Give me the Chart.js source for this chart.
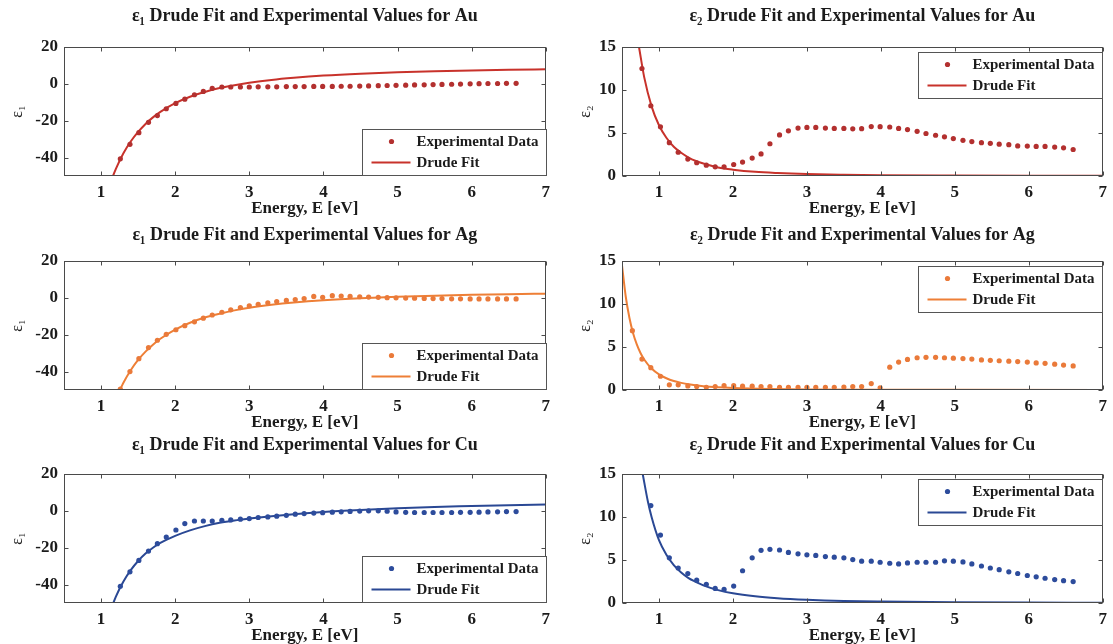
<!DOCTYPE html>
<html>
<head>
<meta charset="utf-8">
<script src="https://cdn.jsdelivr.net/npm/chart.js@4.4.1/dist/chart.umd.min.js"></script>
<style>
  html, body { margin: 0; padding: 0; background: #ffffff; }
  #sheet { position: relative; width: 1113px; height: 644px; overflow: hidden; background: #ffffff; }
  #sheet canvas { position: absolute; }
</style>
</head>
<body>
<div id="sheet"></div>
<script>
// Photon energies of the measured optical constants (eV)
const photonEnergy = [0.64, 0.77, 0.89, 1.02, 1.14, 1.26, 1.39, 1.51, 1.64, 1.76, 1.88, 2.01, 2.13, 2.26, 2.38, 2.50,
  2.63, 2.75, 2.88, 3.00, 3.12, 3.25, 3.37, 3.50, 3.62, 3.74, 3.87, 3.99, 4.12, 4.24, 4.36, 4.49, 4.61, 4.74,
  4.86, 4.98, 5.11, 5.23, 5.36, 5.48, 5.60, 5.73, 5.85, 5.98, 6.10, 6.22, 6.35, 6.47, 6.60];

// Measured permittivity (null = outside the plotted range)
const auEps1 = [null, null, null, null, null,
  -40.7, -32.8, -26.5, -20.9, -17.2, -13.5, -10.6, -8.3, -5.9, -4.1, -2.4, -1.7, -1.7, -1.7, -1.7, -1.6,
  -1.6, -1.6, -1.5, -1.5, -1.5, -1.4, -1.4, -1.4, -1.3, -1.3, -1.2, -1.1, -1.0, -0.9, -0.8, -0.7, -0.6,
  -0.5, -0.4, -0.3, -0.2, -0.1, 0.0, 0.1, 0.2, 0.2, 0.3, 0.3];
const auEps2 = [null,
  12.5, 8.17, 5.72, 3.87, 2.76, 1.97, 1.54, 1.26, 1.07, 1.07, 1.34, 1.62, 2.09, 2.57, 3.75, 4.78, 5.25,
  5.57, 5.65, 5.65, 5.57, 5.53, 5.53, 5.49, 5.5, 5.75, 5.73, 5.7, 5.53, 5.4, 5.2, 4.94, 4.74, 4.55, 4.35,
  4.15, 4.0, 3.87, 3.8, 3.7, 3.64, 3.5, 3.48, 3.44, 3.44, 3.36, 3.28, 3.08];
const agEps1 = [null, null, null, null, null,
  -49.5, -40, -33, -27, -23, -19.8, -17.3, -15.1, -13, -11, -9.3, -7.8, -6.5, -5.3, -4.3, -3.5, -2.7,
  -2.0, -1.4, -0.9, -0.4, 0.8, 0.3, 1.2, 1.0, 0.8, 0.6, 0.4, 0.3, 0.1, 0.0, -0.1, -0.2, -0.3, -0.4, -0.4,
  -0.5, -0.5, -0.6, -0.6, -0.6, -0.6, -0.6, -0.6];
const agEps2 = [6.9, 3.6, 2.6, 1.6, 0.6, 0.6, 0.47, 0.4, 0.3, 0.4, 0.5, 0.5, 0.45, 0.45, 0.4, 0.4, 0.3,
  0.3, 0.3, 0.3, 0.3, 0.3, 0.3, 0.35, 0.4, 0.4, 0.75, 0.25, 2.65, 3.25, 3.55, 3.75, 3.8, 3.8, 3.75, 3.7,
  3.65, 3.6, 3.5, 3.45, 3.4, 3.35, 3.3, 3.25, 3.15, 3.1, 3.0, 2.9, 2.8];
const cuEps1 = [null, null, null, null, null,
  -40.9, -33.1, -26.9, -21.8, -17.8, -14.2, -10.4, -6.9, -5.5, -5.5, -5.5, -5.1, -4.9, -4.5, -4.2, -3.6,
  -3.3, -2.9, -2.4, -1.8, -1.5, -1.2, -1.0, -0.7, -0.5, -0.3, -0.1, 0.0, 0.0, -0.2, -0.6, -0.8, -0.9,
  -0.9, -0.9, -0.9, -0.9, -0.8, -0.8, -0.7, -0.6, -0.5, -0.4, -0.4];
const cuEps2 = [null, null,
  11.33, 7.9, 5.25, 4.07, 3.43, 2.65, 2.17, 1.7, 1.58, 1.97, 3.75, 5.25, 6.12, 6.24, 6.16, 5.88, 5.72,
  5.6, 5.53, 5.4, 5.33, 5.25, 5.05, 4.86, 4.86, 4.74, 4.62, 4.54, 4.66, 4.74, 4.74, 4.74, 4.9, 4.86,
  4.78, 4.54, 4.3, 4.07, 3.87, 3.63, 3.43, 3.2, 3.04, 2.88, 2.72, 2.6, 2.49];

// Drude model curves (energy / value pairs)
const auEps1FitE = [1.16, 1.2, 1.3, 1.4, 1.5, 1.6, 1.7, 1.8, 2.0, 2.2, 2.4, 2.6, 2.8, 3.0, 3.3, 3.6, 4.0, 4.5, 5.0, 5.5, 6.0, 6.5, 7.0];
const auEps1Fit  = [-50, -46.1, -37.8, -31.3, -26.1, -21.75, -18.2, -15.2, -10.5, -7.0, -4.4, -2.3, -0.7, 0.6, 2.15, 3.3, 4.5, 5.55, 6.3, 6.86, 7.28, 7.6, 7.87];
const auEps2FitE = [0.73, 0.8, 0.9, 1.0, 1.1, 1.2, 1.3, 1.4, 1.5, 1.6, 1.8, 2.0, 2.3, 2.6, 3.0, 3.5, 4.0, 5.0, 6.0, 7.0];
const auEps2Fit  = [15, 11.5, 8.1, 5.9, 4.45, 3.4, 2.7, 2.15, 1.75, 1.45, 1.0, 0.74, 0.48, 0.34, 0.22, 0.14, 0.09, 0.05, 0.03, 0.02];
const agEps1FitE = [1.255, 1.3, 1.4, 1.5, 1.6, 1.7, 1.8, 2.0, 2.2, 2.4, 2.6, 2.8, 3.0, 3.3, 3.6, 4.0, 4.5, 5.0, 5.5, 6.0, 6.5, 7.0];
const agEps1Fit  = [-50, -46.2, -39.3, -33.7, -29.2, -25.4, -22.2, -17.2, -13.5, -10.7, -8.6, -6.8, -5.4, -3.8, -2.55, -1.3, -0.19, 0.6, 1.2, 1.64, 2.0, 2.27];
const agEps2FitE = [0.5, 0.55, 0.6, 0.65, 0.7, 0.75, 0.8, 0.9, 1.0, 1.1, 1.2, 1.3, 1.4, 1.6, 1.8, 2.0, 2.5, 3.0, 4.0, 5.0, 7.0];
const agEps2Fit  = [14.5, 10.9, 8.4, 6.6, 5.3, 4.3, 3.55, 2.5, 1.82, 1.37, 1.05, 0.83, 0.66, 0.44, 0.31, 0.23, 0.12, 0.07, 0.03, 0.015, 0.005];
const cuEps1FitE = [1.165, 1.2, 1.3, 1.4, 1.5, 1.6, 1.7, 1.8, 2.0, 2.2, 2.4, 2.6, 2.8, 3.0, 3.3, 3.6, 4.0, 4.5, 5.0, 5.5, 6.0, 6.5, 7.0];
const cuEps1Fit  = [-50, -46.5, -38.5, -32.2, -27.2, -23.2, -20.0, -17.4, -13.6, -10.6, -8.3, -6.5, -5.2, -4.2, -2.9, -1.8, -0.6, 0.5, 1.4, 2.1, 2.6, 3.1, 3.4];
const cuEps2FitE = [0.78, 0.85, 0.9, 1.0, 1.1, 1.2, 1.3, 1.4, 1.5, 1.6, 1.8, 2.0, 2.3, 2.6, 3.0, 3.5, 4.0, 5.0, 6.0, 7.0];
const cuEps2Fit  = [15, 11.8, 10.0, 7.3, 5.6, 4.4, 3.55, 2.9, 2.45, 2.05, 1.5, 1.13, 0.78, 0.56, 0.38, 0.24, 0.17, 0.09, 0.05, 0.03];

// Axis ticks
const energyTicks = [1, 2, 3, 4, 5, 6, 7];
const eps1Ticks = [-40, -20, 0, 20];
const eps2Ticks = [0, 5, 10, 15];

const seriesLabels = ['Experimental Data', 'Drude Fit'];
const metalColors = {
  Au: { dot: '#b3302f', line: '#c8322b' },
  Ag: { dot: '#ea7a3a', line: '#ee7f36' },
  Cu: { dot: '#2d4c9c', line: '#2a4894' }
};

const SERIF = '"Liberation Serif", "DejaVu Serif", serif';
const INK = '#1b1b1b';

// Box, inward tick marks and in-axes legend
const axesBox = {
  id: 'axesBox',
  afterDatasetsDraw(chart, args, opts) {
    const { ctx, chartArea: a, scales: { x, y } } = chart;
    const L = Math.round(a.left) + 0.5, R = Math.round(a.right) - 0.5;
    const T = Math.round(a.top) + 0.5, B = Math.round(a.bottom) - 0.5;
    ctx.save();
    ctx.strokeStyle = '#4a4a4a';
    ctx.lineWidth = 1;
    ctx.beginPath();
    x.ticks.forEach(t => {
      const px = Math.round(x.getPixelForValue(t.value)) + 0.5;
      ctx.moveTo(px, B); ctx.lineTo(px, B - 4);
      ctx.moveTo(px, T); ctx.lineTo(px, T + 4);
    });
    y.ticks.forEach(t => {
      const py = Math.round(y.getPixelForValue(t.value)) + 0.5;
      ctx.moveTo(L, py); ctx.lineTo(L + 4, py);
      ctx.moveTo(R, py); ctx.lineTo(R - 4, py);
    });
    ctx.stroke();
    ctx.strokeRect(L, T, R - L, B - T);

    // legend
    const w = 184, h = 46;
    const bx = Math.round(R - w - (opts.corner === 'tr' ? 1 : 0)) + 0.5;
    const by = opts.corner === 'tr' ? T + 5 : B - h;
    ctx.fillStyle = '#ffffff';
    ctx.fillRect(bx, by, w, h);
    ctx.strokeStyle = '#555555';
    ctx.strokeRect(bx, by, w, h);
    chart.data.datasets.forEach((ds, i) => {
      const cy = by + 12 + i * 21;
      if (ds.showLine) {
        ctx.strokeStyle = ds.borderColor;
        ctx.lineWidth = 2;
        ctx.beginPath();
        ctx.moveTo(bx + 9, cy); ctx.lineTo(bx + 48, cy);
        ctx.stroke();
      } else {
        ctx.fillStyle = ds.backgroundColor;
        ctx.beginPath();
        ctx.arc(bx + 29, cy, 2.6, 0, Math.PI * 2);
        ctx.fill();
      }
      ctx.fillStyle = INK;
      ctx.font = 'bold 15px ' + SERIF;
      ctx.textAlign = 'left';
      ctx.textBaseline = 'middle';
      ctx.fillText(ds.label, bx + 54, cy + 1);
    });
    ctx.restore();
  }
};

const rowTops = [0, 214, 427];
const titlePads = [[6, 19.4], [11, 14.4], [8, 17.4]];

function makePanel(metal, row, part, measured, fitE, fitV) {
  const col = part === 1 ? 0 : 1;
  const canvas = document.createElement('canvas');
  const cw = col === 0 ? 556 : 557;
  canvas.width = cw; canvas.height = 221;
  canvas.style.left = (col * 556) + 'px';
  canvas.style.top = rowTops[row] + 'px';
  canvas.style.width = cw + 'px'; canvas.style.height = '221px';
  document.getElementById('sheet').appendChild(canvas);

  const sub = part === 1 ? '\u2081' : '\u2082';
  const colors = metalColors[metal];
  const expPoints = photonEnergy.map((e, i) => ({ x: e, y: measured[i] })).filter(p => p.y !== null);
  const fitPoints = fitE.map((e, i) => ({ x: e, y: fitV[i] }));

  new Chart(canvas, {
    type: 'scatter',
    data: {
      datasets: [
        { label: seriesLabels[0], data: expPoints, showLine: false, pointRadius: 2.6, pointHoverRadius: 2.6,
          backgroundColor: colors.dot, borderColor: colors.dot, pointBorderWidth: 0 },
        { label: seriesLabels[1], data: fitPoints, showLine: true, pointRadius: 0, borderWidth: 2,
          borderColor: colors.line, backgroundColor: colors.line, cubicInterpolationMode: 'monotone', fill: false }
      ]
    },
    options: {
      responsive: false,
      animation: false,
      devicePixelRatio: 1,
      events: [],
      layout: { padding: { left: 0, right: col === 0 ? 9 : 5, top: 0, bottom: 0 } },
      plugins: {
        legend: { display: false },
        tooltip: { enabled: false },
        title: {
          display: true,
          fullSize: false,
          text: '\u03b5' + sub + ' Drude Fit and Experimental Values for ' + metal,
          color: INK,
          font: { family: SERIF, size: 18, weight: 'bold', lineHeight: 1.2 },
          padding: { top: titlePads[row][0], bottom: titlePads[row][1] }
        },
        axesBox: { corner: part === 1 ? 'br' : 'tr' }
      },
      scales: {
        x: {
          type: 'linear', min: 0.5, max: 7,
          afterBuildTicks: s => { s.ticks = energyTicks.map(v => ({ value: v })); },
          afterFit: s => { s.height = 45; },
          grid: { display: false, drawTicks: false },
          border: { display: false },
          ticks: { padding: 6, autoSkip: false, maxRotation: 0, color: INK,
                   font: { family: SERIF, size: 17, weight: 'bold', lineHeight: 1.2 } },
          title: { display: true, text: 'Energy, E [eV]', color: INK,
                   font: { family: SERIF, size: 17, weight: 'bold', lineHeight: 1.2 },
                   padding: { top: 0, bottom: 1.8 } }
        },
        y: {
          type: 'linear',
          min: part === 1 ? -50 : 0,
          max: part === 1 ? 20 : 15,
          afterBuildTicks: s => { s.ticks = (part === 1 ? eps1Ticks : eps2Ticks).map(v => ({ value: v })); },
          afterFit: s => { s.width = col === 0 ? 64 : 66; },
          grid: { display: false, drawTicks: false },
          border: { display: false },
          ticks: { padding: 6, autoSkip: false, color: INK,
                   font: { family: SERIF, size: 17, weight: 'bold', lineHeight: 1.2 } },
          title: { display: true, text: '\u03b5' + sub, color: INK,
                   font: { family: SERIF, size: 16, lineHeight: 1.2 },
                   padding: { top: col === 0 ? 8 : 20, bottom: 0 } }
        }
      }
    },
    plugins: [axesBox]
  });
}

makePanel('Au', 0, 1, auEps1, auEps1FitE, auEps1Fit);
makePanel('Au', 0, 2, auEps2, auEps2FitE, auEps2Fit);
makePanel('Ag', 1, 1, agEps1, agEps1FitE, agEps1Fit);
makePanel('Ag', 1, 2, agEps2, agEps2FitE, agEps2Fit);
makePanel('Cu', 2, 1, cuEps1, cuEps1FitE, cuEps1Fit);
makePanel('Cu', 2, 2, cuEps2, cuEps2FitE, cuEps2Fit);
</script>
</body>
</html>
